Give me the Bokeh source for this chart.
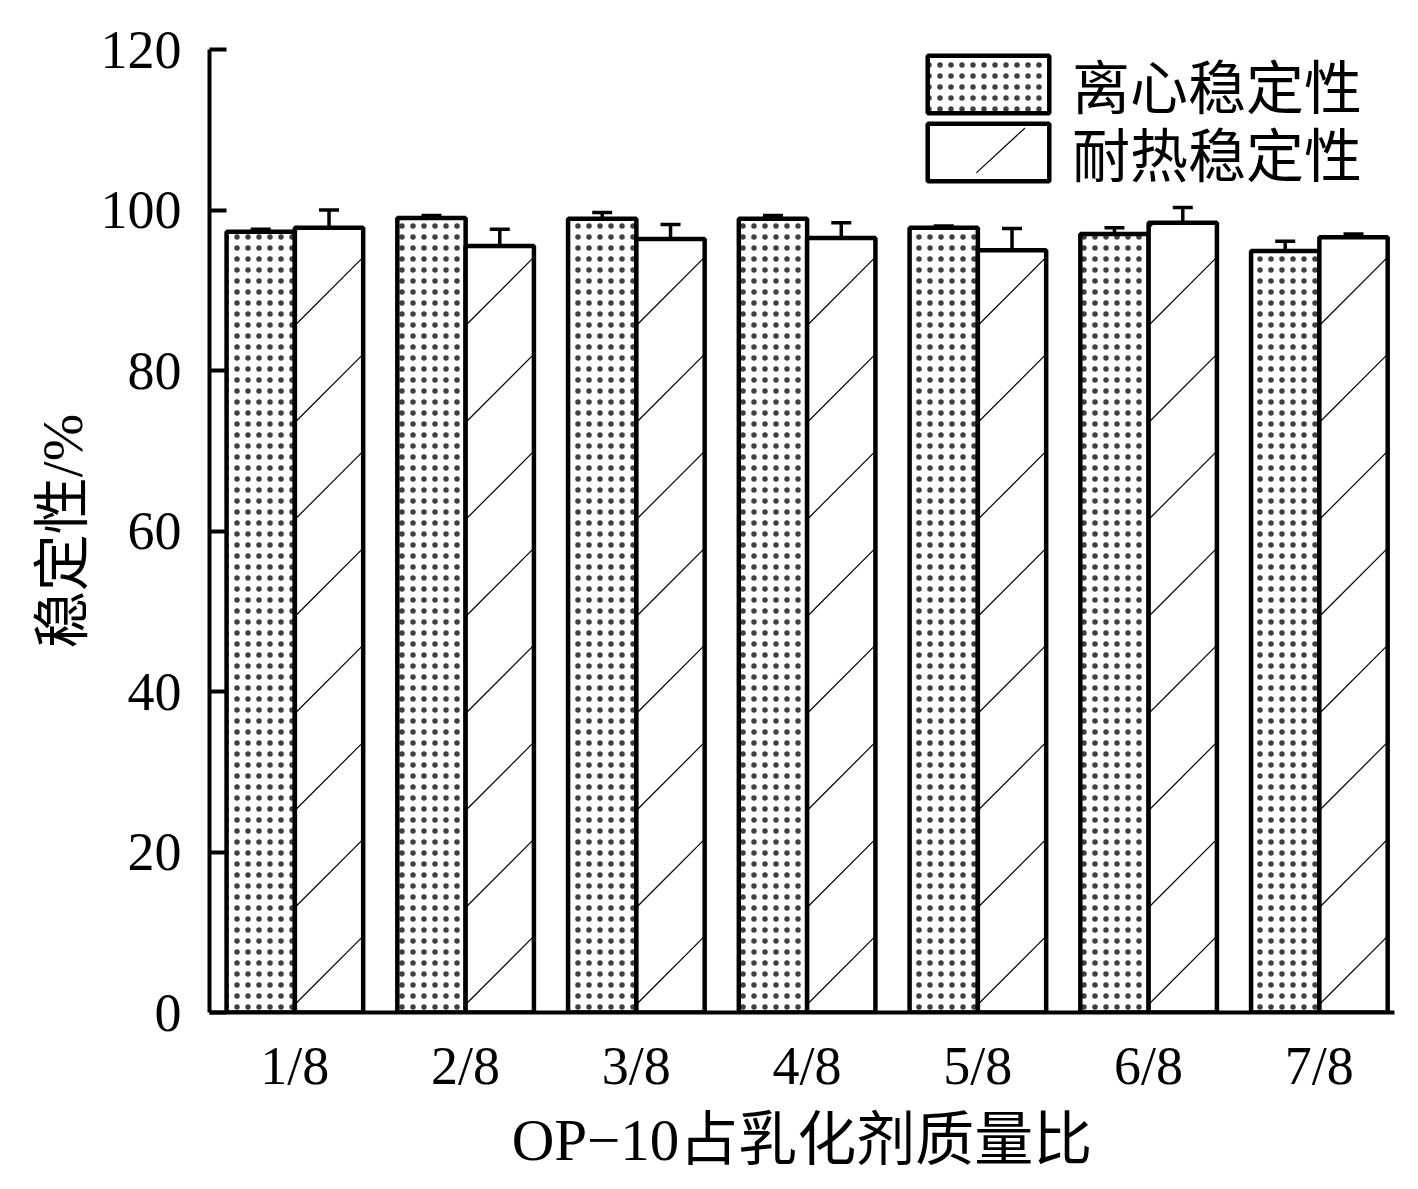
from bokeh.plotting import figure
from bokeh.models import (ColumnDataSource, Range1d, FixedTicker, Whisker, TeeHead,
                          Legend, LegendItem)
from bokeh.embed import file_html
from bokeh.resources import INLINE

# ---------------- data ----------------
categories = ["1/8", "2/8", "3/8", "4/8", "5/8", "6/8", "7/8"]
positions = [1, 2, 3, 4, 5, 6, 7]
centrifugal = [97.3, 99.0, 98.9, 98.9, 97.8, 97.0, 94.9]
centrifugal_err = [0.3, 0.3, 0.8, 0.4, 0.2, 0.8, 1.2]
heat = [97.8, 95.5, 96.4, 96.5, 95.0, 98.4, 96.6]
heat_err = [2.2, 2.1, 1.8, 1.9, 2.7, 1.9, 0.4]
y_ticks = [0, 20, 40, 60, 80, 100, 120]
series_names = ["离心稳定性", "耐热稳定性"]
x_title = "OP−10占乳化剂质量比"
y_title = "稳定性/%"

SERIF = "'Liberation Serif', 'Noto Sans CJK SC'"

# ---------------- geometry ----------------
FW, FH = 1185, 963
X0, X1 = 0.5, 7.44
Y0, Y1 = 0, 120
off = 0.2
bw = 0.4
GW, GH = 152, 72                 # legend glyph box
LABEL_H = 87                     # measured legend item height
L1 = (703, 886)                  # legend positions (px from frame bottom-left)
L2 = (703, 818)

src1 = ColumnDataSource(dict(
    x=[p - off for p in positions], top=centrifugal,
    lo=[v - e for v, e in zip(centrifugal, centrifugal_err)],
    hi=[v + e for v, e in zip(centrifugal, centrifugal_err)]))
src2 = ColumnDataSource(dict(
    x=[p + off for p in positions], top=heat,
    lo=[v - e for v, e in zip(heat, heat_err)],
    hi=[v + e for v, e in zip(heat, heat_err)]))

# 45-degree hatch lines for the heat-stability bars (derived from bar data)
px_x = FW / (X1 - X0)
px_y = FH / (Y1 - Y0)
R = px_x / px_y            # data-y per data-x for a 45 deg screen line
S = 97 / px_y              # vertical spacing of hatch lines (data units)
phase = 1.0
hx0, hy0, hx1, hy1 = [], [], [], []
for pos, top in zip(positions, heat):
    xl = pos + off - bw / 2
    xr = xl + bw
    k = -1
    while True:
        b = phase + k * S
        if b >= top:
            break
        xs = max(xl, xl + (0 - b) / R)
        xe = min(xr, xl + (top - b) / R)
        if xe > xs:
            hx0.append(xs); hy0.append(b + (xs - xl) * R)
            hx1.append(xe); hy1.append(b + (xe - xl) * R)
        k += 1
# single diagonal inside the second legend swatch
rx0 = L2[0] + 0.1 * GW
ry0 = L2[1] + (LABEL_H - GH) / 2 + 0.1 * GH
rw, rh = 0.8 * GW, 0.8 * GH
hx0.append(X0 + (rx0 + 0.40 * rw) / px_x); hy0.append(Y0 + (ry0 + 0.12 * rh) / px_y)
hx1.append(X0 + (rx0 + 0.80 * rw) / px_x); hy1.append(Y0 + (ry0 + 0.90 * rh) / px_y)
hatch_src = ColumnDataSource(dict(x0=hx0, y0=hy0, x1=hx1, y1=hy1))

p = figure(frame_width=FW, frame_height=FH,
           x_range=Range1d(X0, X1), y_range=Range1d(Y0, Y1),
           output_backend="svg", toolbar_location=None,
           min_border_left=209, min_border_top=49,
           min_border_right=10, min_border_bottom=165)
p.outline_line_color = None
p.xgrid.visible = False
p.ygrid.visible = False
p.background_fill_color = "white"
p.border_fill_color = "white"

r1 = p.vbar(x="x", top="top", width=bw, bottom=0, source=src1,
            fill_color="white", line_color="black", line_width=4.5,
            hatch_pattern="dot", hatch_scale=11, hatch_weight=1,
            hatch_color="black", hatch_alpha=0.75)
p.vbar(x="x", top="top", width=bw, bottom=0, source=src2,
       fill_color="white", line_color=None)
p.segment(x0="x0", y0="y0", x1="x1", y1="y1", source=hatch_src,
          line_color="black", line_width=1.2)
r2o = p.vbar(x="x", top="top", width=bw, bottom=0, source=src2,
             fill_color=None, line_color="black", line_width=4.5)

for s in (src1, src2):
    w = Whisker(base="x", lower="lo", upper="hi", source=s,
                line_color="black", line_width=3.5,
                upper_head=TeeHead(size=20, line_width=3.5, line_color="black"),
                lower_head=TeeHead(size=20, line_width=3.5, line_color="black"))
    p.add_layout(w)

# axes
p.yaxis.ticker = FixedTicker(ticks=y_ticks)
p.yaxis.minor_tick_line_color = None
p.yaxis.major_tick_in = 17
p.yaxis.major_tick_out = 0
p.yaxis.major_tick_line_width = 4
p.yaxis.axis_line_width = 4
p.yaxis.major_label_standoff = 28
p.yaxis.major_label_text_font = SERIF
p.yaxis.major_label_text_font_size = "54px"
p.yaxis.major_label_text_color = "black"
p.yaxis.axis_label = y_title
p.yaxis.axis_label_text_font = SERIF
p.yaxis.axis_label_text_font_size = "57px"
p.yaxis.axis_label_text_font_style = "normal"
p.yaxis.axis_label_text_color = "black"
p.yaxis.axis_label_standoff = 4

p.xaxis.ticker = FixedTicker(ticks=positions)
p.xaxis.major_label_overrides = {pos: c for pos, c in zip(positions, categories)}
p.xaxis.minor_tick_line_color = None
p.xaxis.major_tick_line_color = None
p.xaxis.major_tick_in = 0
p.xaxis.major_tick_out = 0
p.xaxis.axis_line_width = 4
p.xaxis.major_label_standoff = 23
p.xaxis.major_label_text_font = SERIF
p.xaxis.major_label_text_font_size = "54px"
p.xaxis.major_label_text_color = "black"
p.xaxis.axis_label = x_title
p.xaxis.axis_label_text_font = SERIF
p.xaxis.axis_label_text_font_size = "59px"
p.xaxis.axis_label_text_font_style = "normal"
p.xaxis.axis_label_text_color = "black"
p.xaxis.axis_label_standoff = 8

leg_kw = dict(padding=0, margin=0, spacing=0,
              glyph_width=GW, glyph_height=GH, label_standoff=8,
              label_text_font=SERIF, label_text_font_size="58px",
              label_text_color="black",
              border_line_alpha=0, background_fill_alpha=0)
legend1 = Legend(items=[LegendItem(label=series_names[0], renderers=[r1])],
                 location=L1, **leg_kw)
legend2 = Legend(items=[LegendItem(label=series_names[1], renderers=[r2o])],
                 location=L2, **leg_kw)
p.add_layout(legend1)
p.add_layout(legend2)

open("out.html", "w").write(file_html(p, INLINE))
